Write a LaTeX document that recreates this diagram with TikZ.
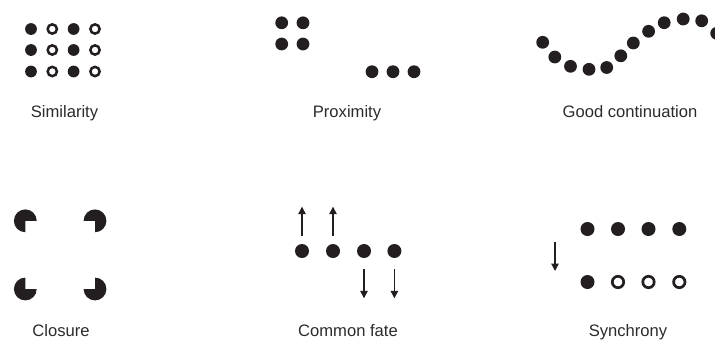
\documentclass[tikz,border=0pt]{standalone}
\usepackage{fontspec}
\setmainfont{Liberation Sans}
\usetikzlibrary{arrows.meta}
\definecolor{ink}{HTML}{231F20}
\definecolor{captext}{HTML}{2B2B2B}
\begin{document}
\begin{tikzpicture}[x=1pt,y=-1pt,
  fdot/.style={circle,fill=ink,inner sep=0pt,minimum size=#1},
  fdot/.default=12pt,
  odot/.style={circle,draw=ink,line width=2.5pt,inner sep=0pt,minimum size=#1},
  odot/.default=9.3pt,
  caption/.style={anchor=base,text=captext,inner sep=0pt,font=\fontsize{16.6}{19}\selectfont},
  motion/.style={draw=ink,line width=1.3pt,-{Triangle[length=7.5pt,width=7.5pt]}}]
\useasboundingbox (0,0) rectangle (715,341);

% Similarity: filled columns alternate with open ones
\foreach \r/\y in {1/29,2/50,3/71.5}{
  \node[fdot=11.8pt] (sim-\r-1) at (31,\y) {};
  \node[odot]        (sim-\r-2) at (52.3,\y) {};
  \node[fdot=11.8pt] (sim-\r-3) at (73.6,\y) {};
  \node[odot]        (sim-\r-4) at (95,\y) {};
}
\node[caption] (capSim) at (64.5,117) {Similarity};

% Proximity: a 2x2 cluster and a row of three
\node[fdot=12.8pt] (px1) at (281.7,22.8) {};
\node[fdot=12.8pt] (px2) at (303,22.8) {};
\node[fdot=12.8pt] (px3) at (281.7,44) {};
\node[fdot=12.8pt] (px4) at (303,44) {};
\node[fdot=12.8pt] (px5) at (372,71.7) {};
\node[fdot=12.8pt] (px6) at (393,71.7) {};
\node[fdot=12.8pt] (px7) at (414,71.7) {};
\node[caption] (capProx) at (347,117) {Proximity};

% Good continuation: dots along a wave
\foreach \x/\y [count=\i] in {542.7/42.3,554.8/57,570.5/66.3,589/69.3,606.7/67.5,
    620.8/55.8,633.3/43,648.6/31.3,664.2/22.7,683.2/19,701.7/20.8,716.7/33.3}{
  \node[fdot=12.8pt] (gc\i) at (\x,\y) {};
}
\node[caption] (capGood) at (630,117) {Good continuation};

% Closure: four discs, each missing the quarter facing the centre
\def\clr{11.4}
\fill[ink] (25.3,220.8) -- +(0,\clr)   arc[start angle=90, end angle=360,radius=\clr] -- cycle;
\fill[ink] (95,220.8)   -- +(-\clr,0)  arc[start angle=180,end angle=450,radius=\clr] -- cycle;
\fill[ink] (25.3,289)   -- +(\clr,0)   arc[start angle=0,  end angle=270,radius=\clr] -- cycle;
\fill[ink] (95,289)     -- +(0,-\clr)  arc[start angle=270,end angle=540,radius=\clr] -- cycle;
\node[caption] (capClos) at (61,336) {Closure};

% Common fate: two dots moving up, two moving down
\node[fdot=14pt] (cf1) at (302,251) {};
\node[fdot=14pt] (cf2) at (333,251) {};
\node[fdot=14pt] (cf3) at (364,251) {};
\node[fdot=14pt] (cf4) at (394.4,251) {};
\coordinate (up1a) at (302,236);   \coordinate (up1b) at (302,206.7);
\coordinate (up2a) at (333,236);   \coordinate (up2b) at (333,206.7);
\coordinate (dn1a) at (364,269.3); \coordinate (dn1b) at (364,298.3);
\coordinate (dn2a) at (394.4,269.3); \coordinate (dn2b) at (394.4,298.3);
\draw[motion] (up1a) -- (up1b);
\draw[motion] (up2a) -- (up2b);
\draw[motion] (dn1a) -- (dn1b);
\draw[motion] (dn2a) -- (dn2b);
\node[caption] (capFate) at (348,336) {Common fate};

% Synchrony: one row before and one row after the change
\foreach \x [count=\i] in {587.5,618,648.5,679.3}{
  \node[fdot=14pt] (sy-top-\i) at (\x,229) {};
}
\node[fdot=14pt] (sy-bot-1) at (587.5,282) {};
\node[odot=11.4pt,line width=2.7pt] (sy-bot-2) at (618,282) {};
\node[odot=11.4pt,line width=2.7pt] (sy-bot-3) at (648.5,282) {};
\node[odot=11.4pt,line width=2.7pt] (sy-bot-4) at (679.3,282) {};
\coordinate (syA) at (555,242.3);
\coordinate (syB) at (555,271);
\draw[motion] (syA) -- (syB);
\node[caption] (capSync) at (628,336) {Synchrony};
\end{tikzpicture}
\end{document}
